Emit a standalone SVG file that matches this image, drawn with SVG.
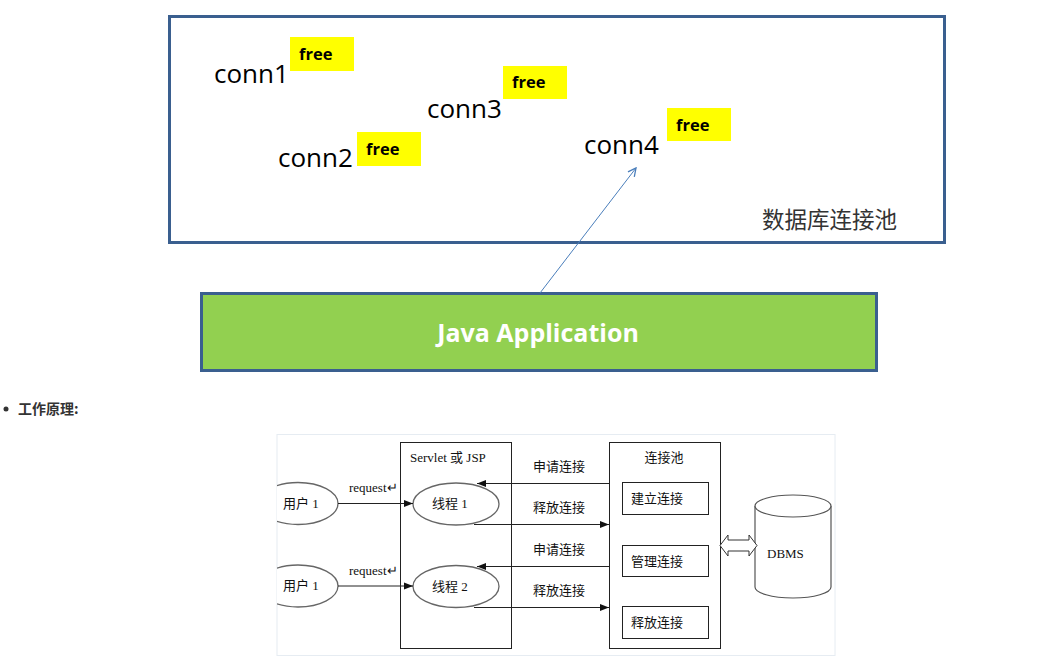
<svg xmlns="http://www.w3.org/2000/svg" width="1045" height="658" viewBox="0 0 1045 658">
<defs>
<style>
.frame{fill:#fff;stroke:#3a5f8f;stroke-width:3}
.conn{font-family:"Open Sans","Liberation Sans",sans-serif;font-size:26px;fill:#000}
.tag{fill:#ffff00}
.free{font-family:"Open Sans","Liberation Sans",sans-serif;font-size:16.5px;font-weight:bold;fill:#000}
.cn{font-family:"Liberation Serif","Noto Sans CJK SC",serif;font-size:13px;fill:#111}
.ln{stroke:#222;stroke-width:1;fill:none}
.el{stroke:#666;stroke-width:1.3;fill:#fff}
</style>
<clipPath id="fig"><rect x="277" y="434" width="558" height="222"/></clipPath>
<marker id="open" viewBox="0 0 10 10" refX="9" refY="5" markerWidth="10" markerHeight="10" orient="auto" markerUnits="userSpaceOnUse">
<path d="M1,1 L9,5 L1,9" fill="none" stroke="#4a7ebb" stroke-width="1.3"/>
</marker>
<marker id="fill" viewBox="0 0 10 10" refX="10" refY="5" markerWidth="9" markerHeight="9" orient="auto" markerUnits="userSpaceOnUse">
<path d="M0,1 L10,5 L0,9 Z" fill="#111"/>
</marker>
</defs>
<rect width="1045" height="658" fill="#fff"/>

<g id="pool">
<rect class="frame" x="169.5" y="16.5" width="775" height="226"/>
<text x="762" y="228" font-family="Noto Sans CJK SC,sans-serif" font-size="22.5" fill="#333">数据库连接池</text>
</g>
<g id="conn1"><text class="conn" x="214" y="83">conn1</text><rect class="tag" x="290" y="37" width="64" height="34"/><text class="free" x="299" y="60">free</text></g>
<g id="conn3"><text class="conn" x="427" y="118">conn3</text><rect class="tag" x="503" y="66" width="64" height="33"/><text class="free" x="512" y="88">free</text></g>
<g id="conn2"><text class="conn" x="278" y="167">conn2</text><rect class="tag" x="357" y="132" width="64" height="34"/><text class="free" x="366" y="155">free</text></g>
<g id="conn4"><text class="conn" x="584" y="154">conn4</text><rect class="tag" x="667" y="108" width="64" height="33"/><text class="free" x="676" y="131">free</text></g>

<g id="app">
<rect x="201.5" y="293.5" width="675" height="77" fill="#92d050" stroke="#3a5f8f" stroke-width="3"/>
<text x="538" y="342" text-anchor="middle" font-family="Open Sans,Liberation Sans,sans-serif" font-size="25" font-weight="bold" fill="#fff">Java Application</text>
</g>

<g id="top-connectors">
<line x1="540" y1="293" x2="636" y2="168" stroke="#4a7ebb" stroke-width="1" marker-end="url(#open)"/>
</g>

<g id="bullet">
<circle cx="6" cy="409" r="2.5" fill="#333"/>
<text x="18" y="414" font-family="Noto Sans CJK SC,sans-serif" font-size="14" font-weight="bold" fill="#333">工作原理:</text>
</g>

<g id="figure">
<rect x="277" y="434.5" width="558" height="221" fill="#fff" stroke="#e6ecf2" stroke-width="1"/>
</g>
<g id="servlet">
<rect class="ln" x="400.5" y="442.5" width="111" height="206"/>
<text class="cn" x="410" y="462">Servlet 或 JSP</text>
</g>
<g id="pool2">
<rect class="ln" x="609.5" y="442.5" width="111" height="206"/>
<text class="cn" x="664" y="462" text-anchor="middle">连接池</text>
</g>
<g id="build"><rect class="ln" x="622.5" y="482.5" width="86" height="32"/><text class="cn" x="631" y="503">建立连接</text></g>
<g id="manage"><rect class="ln" x="622.5" y="545.5" width="86" height="31"/><text class="cn" x="631" y="566">管理连接</text></g>
<g id="release"><rect class="ln" x="622.5" y="606.5" width="86" height="32"/><text class="cn" x="631" y="627">释放连接</text></g>

<g id="user1" clip-path="url(#fig)"><ellipse class="el" cx="298" cy="503.5" rx="40" ry="21"/><text class="cn" x="283" y="508">用户 1</text></g>
<g id="user2" clip-path="url(#fig)"><ellipse class="el" cx="298" cy="586" rx="40" ry="21"/><text class="cn" x="283" y="590">用户 1</text></g>
<g id="thread1"><ellipse class="el" cx="456" cy="504" rx="43" ry="21"/><text class="cn" x="432" y="508">线程 1</text></g>
<g id="thread2"><ellipse class="el" cx="456" cy="586.5" rx="43" ry="21"/><text class="cn" x="432" y="591">线程 2</text></g>

<g id="dbms">
<path d="M755,506 L755,587 A38,11 0 0 0 831,587 L831,506" fill="#fff" stroke="#555" stroke-width="1.2"/>
<ellipse cx="793" cy="506" rx="38" ry="11" fill="#fff" stroke="#555" stroke-width="1.2"/>
<text class="cn" x="767" y="558" font-size="14">DBMS</text>
</g>

<g id="connectors">
<line class="ln" x1="338" y1="503.5" x2="413" y2="503.5" marker-end="url(#fill)"/>
<text class="cn" x="349" y="492" font-size="12">request↵</text>
<line class="ln" x1="338" y1="586" x2="413" y2="586" marker-end="url(#fill)"/>
<text class="cn" x="349" y="575" font-size="12">request↵</text>
<line class="ln" x1="609" y1="483.5" x2="477" y2="483.5" marker-end="url(#fill)"/>
<text class="cn" x="533" y="471">申请连接</text>
<line class="ln" x1="474" y1="524.5" x2="609" y2="524.5" marker-end="url(#fill)"/>
<text class="cn" x="533" y="512">释放连接</text>
<line class="ln" x1="609" y1="566.5" x2="477" y2="566.5" marker-end="url(#fill)"/>
<text class="cn" x="533" y="554">申请连接</text>
<line class="ln" x1="474" y1="607.5" x2="609" y2="607.5" marker-end="url(#fill)"/>
<text class="cn" x="533" y="595">释放连接</text>
<path d="M720,545.5 L728,535 L728,540 L749,540 L749,535 L757,545.5 L749,556 L749,551 L728,551 L728,556 Z" fill="#fff" stroke="#333" stroke-width="1"/>
</g>
</svg>
